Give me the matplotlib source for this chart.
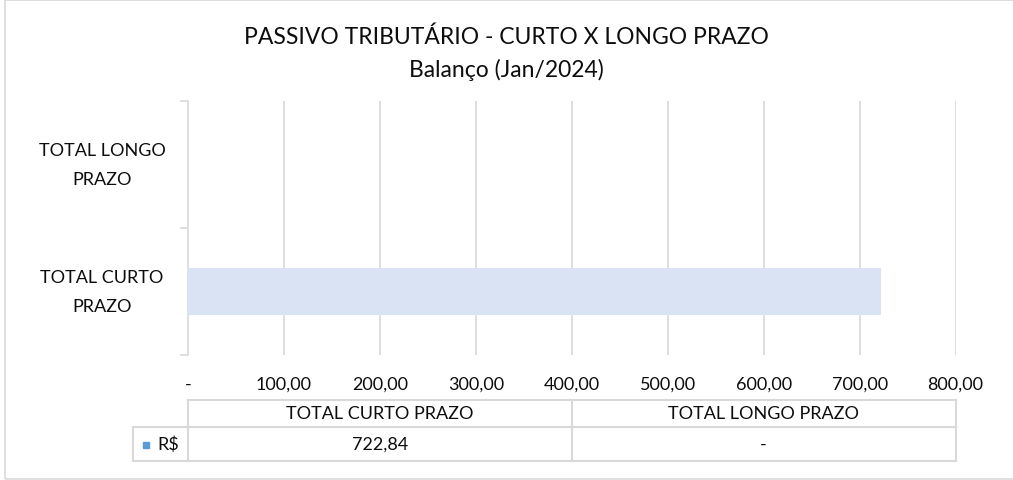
import numpy as np
import matplotlib.pyplot as plt
from matplotlib.lines import Line2D
from matplotlib.patches import Rectangle

plt.rcParams['font.family'] = ['Lato', 'DejaVu Sans']

title = "PASSIVO TRIBUTÁRIO - CURTO X LONGO PRAZO"
subtitle = "Balanço (Jan/2024)"
categories = ["TOTAL CURTO PRAZO", "TOTAL LONGO PRAZO"]
cat_labels = ["TOTAL CURTO\nPRAZO", "TOTAL LONGO\nPRAZO"]
values = [722.84, 0.0]
series_name = "R$"
xticks = [0, 100, 200, 300, 400, 500, 600, 700, 800]

W, H = 1013, 481
grid_c = '#D9D9D9'
txt_c = '#0d0d0d'
bar_c = '#DAE3F3'
legend_c = '#5B9BD5'
fs = 13


def fx(px):
    return px / W


def fy(py):
    return 1 - py / H


def fmt(v):
    if v == 0:
        return "-"
    return f"{v:,.2f}".replace(",", "X").replace(".", ",").replace("X", ".")


fig = plt.figure(figsize=(W / 100, H / 100), dpi=100)

# chart border
fig.add_artist(Rectangle((fx(4.5), fy(479.5)), fx(1020), fy(0.5) - fy(479.5),
                         transform=fig.transFigure, fill=False, ec=grid_c, lw=1.2))

x0, x1, ytop, ybot = 188, 955.5, 102, 356
ax = fig.add_axes([fx(x0), fy(ybot), fx(x1 - x0), (ybot - ytop) / H])
ax.set_xlim(0, 800)
ax.set_ylim(-0.5, len(categories) - 0.5)
ypos = np.arange(len(categories))
ax.barh(ypos, values, height=0.37, color=bar_c, zorder=3)
for t in xticks[1:]:
    ax.axvline(t, color=grid_c, lw=1.2, zorder=1)
for s in ['top', 'right', 'bottom']:
    ax.spines[s].set_visible(False)
ax.spines['left'].set_color(grid_c)
ax.spines['left'].set_linewidth(1.2)
ax.set_yticks(np.arange(-0.5, len(categories)), minor=False)
ax.set_yticklabels([])
ax.tick_params(axis='y', length=6, color=grid_c, width=1.2)
ax.set_xticks([])
for yp, lab in zip(ypos, cat_labels):
    ax.text(-86 / (x1 - x0) * 800, yp, lab, ha='center', va='center',
            fontsize=fs, color=txt_c, linespacing=1.95)
for t in xticks:
    ax.text(t, -0.5 - 29 / 127, fmt(t), ha='center', va='center',
            fontsize=fs, color=txt_c)

fig.text(0.5, fy(37), title, ha='center', va='center', fontsize=16.5, color=txt_c)
fig.text(0.5, fy(70), subtitle, ha='center', va='center', fontsize=16.5, color=txt_c)

# data table
r0, r1, r2 = 401, 428, 462
leg_x = 133
n = len(categories)
edges = [x0 + i * (x1 - x0) / n for i in range(n + 1)]


def hline(xa, xb, y):
    fig.add_artist(Line2D([fx(xa), fx(xb)], [fy(y), fy(y)], color=grid_c, lw=1.5))


def vline(x, ya, yb):
    fig.add_artist(Line2D([fx(x), fx(x)], [fy(ya), fy(yb)], color=grid_c, lw=1.5))


hline(x0, x1, r0)
hline(leg_x, x1, r1)
hline(leg_x, x1, r2)
vline(leg_x, r1, r2)
for e in edges:
    vline(e, r0, r2)
for i, (c, v) in enumerate(zip(categories, values)):
    cx = (edges[i] + edges[i + 1]) / 2
    fig.text(fx(cx), fy((r0 + r1) / 2), c, ha='center', va='center', fontsize=fs, color=txt_c)
    fig.text(fx(cx), fy((r1 + r2) / 2), fmt(v), ha='center', va='center', fontsize=fs, color=txt_c)
fig.add_artist(Rectangle((fx(143), fy(449)), fx(6), fy(443) - fy(449),
                         transform=fig.transFigure, color=legend_c))
fig.text(fx(157), fy((r1 + r2) / 2), series_name, ha='left', va='center', fontsize=fs, color=txt_c)

fig.savefig('out.png', dpi=100)
